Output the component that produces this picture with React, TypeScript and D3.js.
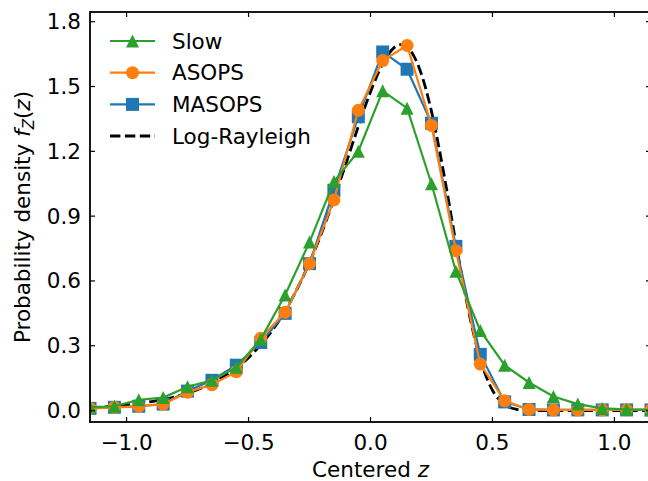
import { useRef, useEffect } from "react";
import * as d3 from "d3";

// bin centres
const zBins = [
  -1.15, -1.05, -0.95, -0.85, -0.75, -0.65, -0.55, -0.45, -0.35, -0.25, -0.15, -0.05,
  0.05, 0.15, 0.25, 0.35, 0.45, 0.55, 0.65, 0.75, 0.85, 0.95, 1.05, 1.15,
];
const slow = [
  0.015, 0.02, 0.05, 0.06, 0.11, 0.14, 0.2, 0.33, 0.535, 0.78, 1.06, 1.2,
  1.48, 1.4, 1.05, 0.645, 0.37, 0.21, 0.13, 0.065, 0.03, 0.01, 0.005, 0.003,
];
const asops = [
  0.01, 0.015, 0.02, 0.03, 0.085, 0.12, 0.18, 0.335, 0.455, 0.68, 0.975, 1.39,
  1.62, 1.69, 1.32, 0.74, 0.215, 0.045, 0.005, 0.003, 0.003, 0.003, 0.003, 0.003,
];
const masops = [
  0.01, 0.015, 0.02, 0.03, 0.09, 0.14, 0.21, 0.315, 0.45, 0.68, 1.02, 1.36,
  1.66, 1.58, 1.33, 0.76, 0.26, 0.04, 0.005, 0.003, 0.003, 0.003, 0.003, 0.003,
];
// Log-Rayleigh curve
const lrZ = [
  -1.15, -1.1, -1.05, -1.0, -0.95, -0.9, -0.85, -0.8, -0.75, -0.7, -0.65, -0.6, -0.55, -0.5,
  -0.45, -0.4, -0.35, -0.3, -0.25, -0.2, -0.15, -0.1, -0.05, 0.0, 0.05, 0.1, 0.125, 0.15,
  0.2, 0.25, 0.3, 0.35, 0.4, 0.45, 0.5, 0.55, 0.6, 0.65, 0.7, 0.75, 0.85, 1.0, 1.15,
];
const lrF = [
  0.013, 0.016, 0.02, 0.026, 0.032, 0.041, 0.051, 0.064, 0.08, 0.101, 0.126, 0.158, 0.197, 0.245,
  0.304, 0.375, 0.461, 0.565, 0.685, 0.823, 0.979, 1.145, 1.315, 1.475, 1.605, 1.683, 1.694, 1.683,
  1.585, 1.385, 1.101, 0.777, 0.472, 0.237, 0.094, 0.028, 0.006, 0.001, 0.0, 0.0, 0.0, 0.0, 0.0,
];
const xTicks = [-1.0, -0.5, 0.0, 0.5, 1.0];
const yTicks = [0.0, 0.3, 0.6, 0.9, 1.2, 1.5, 1.8];
const legendLabels = ["Slow", "ASOPS", "MASOPS", "Log-Rayleigh"];

const W = 648;
const H = 481;
const FONT = "DejaVu Sans, sans-serif";
const FS = 21.5;

export default function App() {
  const ref = useRef<SVGSVGElement | null>(null);

  useEffect(() => {
    if (!ref.current) return;
    const svg = d3.select(ref.current);
    svg.selectAll("*").remove();

    const L = 90, R = 651, T = 12, B = 422;
    const x = d3.scaleLinear().domain([-1.15, 1.15]).range([L, R]);
    const y = d3.scaleLinear().domain([-0.053, 1.845]).range([B, T]);

    svg.append("defs").append("clipPath").attr("id", "plotclip")
      .append("rect").attr("x", L).attr("y", T).attr("width", R - L).attr("height", B - T);

    const g = svg.append("g").attr("clip-path", "url(#plotclip)");

    // dashed theory curve
    const lr = lrZ.map((z, i) => [z, lrF[i]] as [number, number]);
    g.append("path").datum(lr)
      .attr("fill", "none").attr("stroke", "#000").attr("stroke-width", 2.8)
      .attr("stroke-dasharray", "10.4,4.5")
      .attr("d", d3.line<[number, number]>().x((d) => x(d[0])).y((d) => y(d[1])).curve(d3.curveMonotoneX));

    const line = d3.line<number>().x((_, i) => x(zBins[i])).y((d) => y(d));
    const ms = 13;
    const triPath = (cx: number, cy: number) =>
      `M${cx},${cy - ms / 2}L${cx - ms / 2},${cy + ms / 2}L${cx + ms / 2},${cy + ms / 2}Z`;

    const drawSeries = (vals: number[], color: string, marker: string) => {
      g.append("path").datum(vals)
        .attr("fill", "none").attr("stroke", color).attr("stroke-width", 2.2)
        .attr("d", line);
      vals.forEach((v, i) => {
        const cx = x(zBins[i]), cy = y(v);
        if (marker === "o") {
          g.append("circle").attr("cx", cx).attr("cy", cy).attr("r", ms / 2).attr("fill", color);
        } else if (marker === "s") {
          g.append("rect").attr("x", cx - ms / 2).attr("y", cy - ms / 2)
            .attr("width", ms).attr("height", ms).attr("fill", color);
        } else {
          g.append("path").attr("d", triPath(cx, cy)).attr("fill", color);
        }
      });
    };

    drawSeries(masops, "#1f77b4", "s");
    drawSeries(asops, "#ff7f0e", "o");
    drawSeries(slow, "#2ca02c", "^");

    // ticks (inward, all four sides)
    const tl = 5;
    xTicks.forEach((t) => {
      svg.append("line").attr("x1", x(t)).attr("x2", x(t)).attr("y1", B).attr("y2", B - tl)
        .attr("stroke", "#000").attr("stroke-width", 1.2);
      svg.append("line").attr("x1", x(t)).attr("x2", x(t)).attr("y1", T).attr("y2", T + tl)
        .attr("stroke", "#000").attr("stroke-width", 1.2);
      svg.append("text").attr("x", x(t)).attr("y", 450)
        .attr("text-anchor", "middle").attr("font-family", FONT).attr("font-size", FS)
        .text(d3.format(".1f")(t).replace("-", "\u2212"));
    });
    yTicks.forEach((t) => {
      svg.append("line").attr("x1", L).attr("x2", L + tl).attr("y1", y(t)).attr("y2", y(t))
        .attr("stroke", "#000").attr("stroke-width", 1.2);
      svg.append("line").attr("x1", R).attr("x2", R - tl).attr("y1", y(t)).attr("y2", y(t))
        .attr("stroke", "#000").attr("stroke-width", 1.2);
      svg.append("text").attr("x", 81).attr("y", y(t))
        .attr("text-anchor", "end").attr("dominant-baseline", "central")
        .attr("font-family", FONT).attr("font-size", FS)
        .text(d3.format(".1f")(t));
    });

    svg.append("rect").attr("x", L).attr("y", T).attr("width", R - L).attr("height", B - T)
      .attr("fill", "none").attr("stroke", "#000").attr("stroke-width", 1.8);

    // axis labels
    const xl = svg.append("text").attr("x", (L + R) / 2).attr("y", 477)
      .attr("text-anchor", "middle").attr("font-family", FONT).attr("font-size", FS);
    xl.append("tspan").text("Centered ");
    xl.append("tspan").attr("font-style", "italic").text("z");

    const yl = svg.append("text")
      .attr("transform", `translate(30,${(T + B) / 2}) rotate(-90)`)
      .attr("text-anchor", "middle").attr("font-family", FONT).attr("font-size", FS);
    yl.append("tspan").text("Probability density ");
    yl.append("tspan").attr("font-style", "italic").text("f");
    yl.append("tspan").attr("font-style", "italic").attr("font-size", FS * 0.7).attr("dy", 4).text("Z");
    yl.append("tspan").attr("dy", -4).text("(");
    yl.append("tspan").attr("font-style", "italic").text("z");
    yl.append("tspan").text(")");

    // legend
    const colors = ["#2ca02c", "#ff7f0e", "#1f77b4", "#000"];
    const markers = ["^", "o", "s", ""];
    const rows = [41, 72.7, 104.4, 136];
    legendLabels.forEach((lab, i) => {
      const ry = rows[i];
      const hl = svg.append("line").attr("x1", 110).attr("x2", 155).attr("y1", ry).attr("y2", ry)
        .attr("stroke", colors[i]).attr("stroke-width", i === 3 ? 2.8 : 2.2);
      if (i === 3) hl.attr("stroke-dasharray", "10.4,4.5");
      const cx = 132.5;
      if (markers[i] === "o") {
        svg.append("circle").attr("cx", cx).attr("cy", ry).attr("r", ms / 2).attr("fill", colors[i]);
      } else if (markers[i] === "s") {
        svg.append("rect").attr("x", cx - ms / 2).attr("y", ry - ms / 2)
          .attr("width", ms).attr("height", ms).attr("fill", colors[i]);
      } else if (markers[i] === "^") {
        svg.append("path").attr("d", triPath(cx, ry)).attr("fill", colors[i]);
      }
      svg.append("text").attr("x", 172).attr("y", ry).attr("dominant-baseline", "central")
        .attr("font-family", FONT).attr("font-size", FS).text(lab);
    });
  }, []);

  return (
    <svg ref={ref} width={W} height={H}
      style={{ position: "absolute", left: 0, top: 0, background: "#fff" }} />
  );
}
